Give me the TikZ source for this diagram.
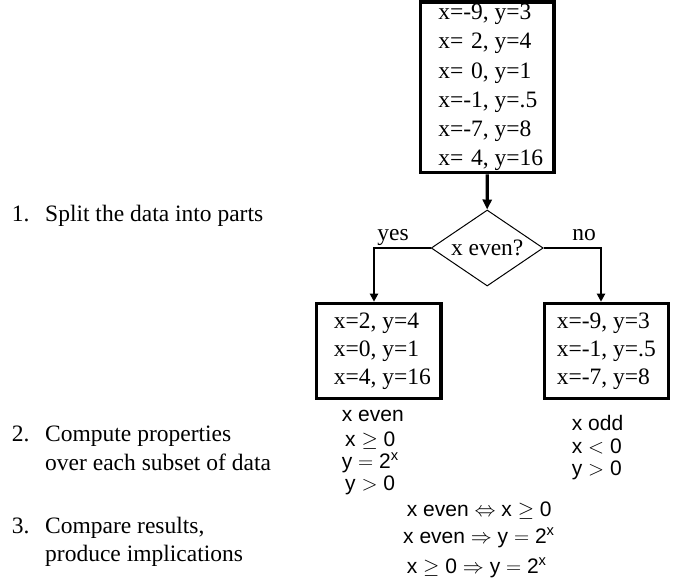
\RequirePackage{fix-cm}
\documentclass[tikz,border=0pt]{standalone}
\usepackage{fontspec}
\setmainfont{Liberation Serif}
\newfontfamily\sansfnt{Liberation Sans}
\usetikzlibrary{arrows.meta,shapes.geometric}
\newcommand\bigserif{\fontsize{23.5}{29.2}\selectfont}
\newcommand\midserif{\fontsize{23.5}{28}\selectfont}
\newcommand\sansann{\sansfnt\fontsize{21}{25}\selectfont}
\newcommand\supx{\textsuperscript{x}}
\newcommand\dsp{\hphantom{-}}
\tikzset{
  databox/.style={draw, line width=3.2pt, rectangle, inner sep=0pt, align=left},
  decide/.style={draw, line width=1pt, diamond, aspect=1.47, inner sep=0pt,
    minimum width=112pt, minimum height=76pt, font=\bigserif},
  mainarrow/.style={line width=3.2pt, -{Triangle[length=10pt,width=9pt]}},
  brancharrow/.style={line width=2pt, -{Triangle[length=8pt,width=8pt]}},
  lbl/.style={font=\bigserif, inner sep=0pt, anchor=base},
  ann/.style={font=\sansann, inner sep=0pt, anchor=base west},
  listtxt/.style={font=\bigserif, inner sep=0pt, anchor=base west},
}
\begin{document}
\begin{tikzpicture}[x=1pt,y=-1pt]
\useasboundingbox (0,0) rectangle (676,582);

% data boxes
\node[databox, font=\bigserif, minimum width=133.3pt, minimum height=170.7pt] (top) at (487.3,87.4)
  {\hspace{7pt}x=-9, y=3\\\hspace{7pt}x=\dsp2, y=4\\\hspace{7pt}x=\dsp0, y=1\\\hspace{7pt}x=-1, y=.5\\\hspace{7pt}x=-7, y=8\\\hspace{7pt}x=\dsp4, y=16};
\node[decide] (dia) at (487.2,248) {x even?};
\node[databox, font=\midserif, minimum width=124.3pt, minimum height=95pt] (lbox) at (378.8,350.8)
  {\hspace{7pt}x=2, y=4\\\hspace{7pt}x=0, y=1\\\hspace{7pt}x=4, y=16};
\node[databox, font=\midserif, minimum width=124pt, minimum height=95pt] (rbox) at (606.3,350.8)
  {x=-9, y=3\\x=-1, y=.5\\x=-7, y=8};

% connectors
\draw[mainarrow] (top.south) -- (dia.north);
\draw[brancharrow] (dia.west) -| ([xshift=-4.8pt]lbox.north);
\draw[brancharrow] (dia.east) -| ([xshift=-5.3pt]rbox.north);
\node[lbl] (yes) at (393,240) {yes};
\node[lbl] (no) at (584,240) {no};

% steps on the left
\node[listtxt] (n1) at (11.7,221.7) {1.};
\node[listtxt] (s1) at (45,221.7) {Split the data into parts};
\node[listtxt] (n2) at (11.7,441.7) {2.};
\node[listtxt] (s2a) at (45,441.7) {Compute properties};
\node[listtxt] (s2b) at (45,470) {over each subset of data};
\node[listtxt] (n3) at (11.7,533.3) {3.};
\node[listtxt] (s3a) at (45,533.3) {Compare results,};
\node[listtxt] (s3b) at (45,561.7) {produce implications};

% properties, left subset
\node[ann] (le1) at (341.7,421.7) {x even};
\node[ann] (le2) at (345,446.7) {x $\geq$ 0};
\node[ann] (le3) at (341.7,468.3) {y $=$ 2\supx};
\node[ann] (le4) at (345,490) {y $>$ 0};

% properties, right subset
\node[ann] (ro1) at (571.7,430) {x odd};
\node[ann] (ro2) at (571.7,453.3) {x $<$ 0};
\node[ann] (ro3) at (571.7,475) {y $>$ 0};

% implications
\node[ann] (im1) at (406.7,516.7) {x even $\Leftrightarrow$ x $\geq$ 0};
\node[ann] (im2) at (403,543.3) {x even $\Rightarrow$ y $=$ 2\supx};
\node[ann] (im3) at (406.7,573.3) {x $\geq$ 0 $\Rightarrow$ y $=$ 2\supx};
\end{tikzpicture}
\end{document}
